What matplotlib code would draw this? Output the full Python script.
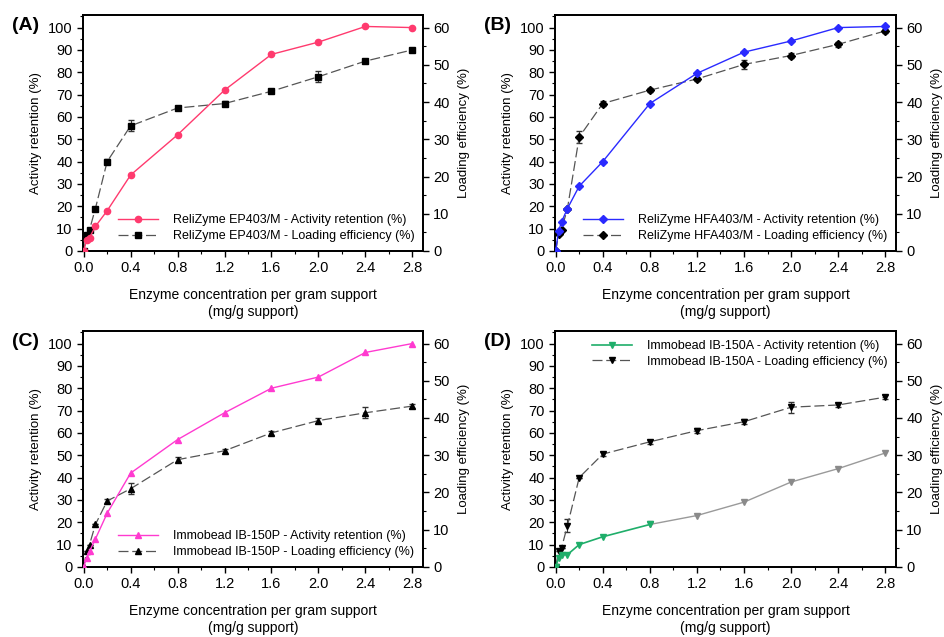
import numpy as np
import matplotlib.pyplot as plt
from matplotlib.ticker import MultipleLocator

# enzyme loading (mg/g support)
conc = [0, 0.025, 0.05, 0.1, 0.2, 0.4, 0.8, 1.2, 1.6, 2.0, 2.4, 2.8]

# activity retention (%), left axis
act_A = [0, 5, 6, 11, 18, 34, 52, 72, 88, 93.5, 100.5, 100]
act_B = [0, 9, 13, 19, 29, 40, 66, 79.5, 89, 94, 100, 100.5]
act_C = [0, 4, 7, 12.5, 24, 42, 57, 69, 80, 85, 96, 100]
act_D = [0, 4, 5.5, 5.5, 10, 13.5, 19, 23, 29, 38, 44, 51]

# loading efficiency (%), right axis
load_A = [0, 4.2, 5.7, 11.4, 24, 33.6, 38.4, 39.6, 42.9, 46.8, 51, 54]
load_B = [0, 4.5, 5.7, 11.4, 30.6, 39.6, 43.2, 46.2, 50.1, 52.5, 55.5, 59.1]
load_C = [0, 4.2, 6, 11.4, 17.7, 21, 28.8, 31.2, 36, 39.3, 41.4, 43.2]
load_D = [0, 4.2, 5.1, 11.1, 24, 30.3, 33.6, 36.6, 39, 42.9, 43.5, 45.6]

# error bars on loading efficiency
err_A = [0, 0, 0, 0, 0.6, 1.5, 0.6, 0.6, 0.6, 1.5, 0.6, 0.6]
err_B = [0, 0, 0, 0, 1.5, 0.6, 0.6, 0.6, 1.2, 0.6, 0.6, 0.6]
err_C = [0, 0, 0, 0, 0.6, 1.5, 0.6, 0.6, 0.6, 0.6, 1.5, 0.6]
err_D = [0, 0, 0, 1.8, 0, 0.6, 0.6, 0.6, 0.6, 1.5, 0.6, 0.6]

panels = [
    ('(A)', 'ReliZyme EP403/M', act_A, load_A, err_A, '#ff3a6e', 'o', 's', 'lower right'),
    ('(B)', 'ReliZyme HFA403/M', act_B, load_B, err_B, '#2a2aff', 'D', 'D', 'lower right'),
    ('(C)', 'Immobead IB-150P', act_C, load_C, err_C, '#ff3ad0', '^', '^', 'lower right'),
    ('(D)', 'Immobead IB-150A', act_D, load_D, err_D, '#1fae6a', 'v', 'v', 'upper right'),
]

positions = [
    [0.088, 0.606, 0.360, 0.370],
    [0.588, 0.606, 0.361, 0.370],
    [0.088, 0.110, 0.360, 0.370],
    [0.588, 0.110, 0.361, 0.370],
]

plt.rcParams['font.family'] = ['Liberation Sans', 'DejaVu Sans']
fig = plt.figure(figsize=(9.44, 6.37), dpi=100)

for pos, (tag, name, act, load, err, col, m1, m2, loc) in zip(positions, panels):
    ax = fig.add_axes(pos)
    ax2 = ax.twinx()
    ms = 4.5 if m1 != 'D' else 4
    if tag == '(D)':
        # the later part of the activity curve looks grey in the source
        ax.plot(conc[6:], act[6:], color='#9a9a9a', lw=1, marker=m1, ms=ms,
                mfc='#8a8a8a', mec='#8a8a8a', zorder=3)
        l1, = ax.plot(conc[:7], act[:7], color=col, lw=1.2, marker=m1, ms=ms,
                      zorder=4, label=name + ' - Activity retention (%)')
    else:
        l1, = ax.plot(conc, act, color=col, lw=1, marker=m1, ms=ms, zorder=4,
                      label=name + ' - Activity retention (%)')
    eb = ax2.errorbar(conc, load, yerr=err, color='#555555', lw=0.9,
                      ls=(0, (8, 3)), marker=m2, ms=ms, mfc='black', mec='black',
                      ecolor='#333333', elinewidth=0.8, capsize=2.5)
    l2 = eb[0]
    l2.set_label(name + ' - Loading efficiency (%)')

    ax.set_xlim(-0.005, 2.89)
    ax.set_ylim(0, 105.5)
    ax2.set_ylim(0, 63.3)
    ax.xaxis.set_major_locator(MultipleLocator(0.4))
    ax.xaxis.set_minor_locator(MultipleLocator(0.2))
    ax.yaxis.set_major_locator(MultipleLocator(10))
    ax.yaxis.set_minor_locator(MultipleLocator(5))
    ax2.yaxis.set_major_locator(MultipleLocator(10))
    ax2.yaxis.set_minor_locator(MultipleLocator(5))
    for a in (ax, ax2):
        a.tick_params(which='major', direction='out', length=4, width=1, labelsize=10.5)
        a.tick_params(which='minor', direction='out', length=2.5, width=0.8)
        for s in a.spines.values():
            s.set_linewidth(1.3)
    ax.set_xticklabels([f'{v:.1f}' for v in ax.get_xticks()])

    ax.set_ylabel('Activity retention (%)', fontsize=9.5, labelpad=4)
    ax2.set_ylabel('Loading efficiency (%)', fontsize=9.5, labelpad=6)
    ax.set_xlabel('Enzyme concentration per gram support\n(mg/g support)',
                  fontsize=10, labelpad=9, linespacing=1.3)
    ax.text(-0.17, 0.955, tag, transform=ax.transAxes, fontsize=14,
            fontweight='bold', ha='center', va='center')

    ax.set_zorder(ax2.get_zorder() + 1)
    ax.patch.set_visible(False)
    ax.legend([l1, l2], [l1.get_label(), l2.get_label()], loc=loc,
              frameon=False, fontsize=9, handlelength=3.2,
              borderaxespad=0.3, labelspacing=0.3, handletextpad=1.2)

fig.savefig('out.png', dpi=100)
